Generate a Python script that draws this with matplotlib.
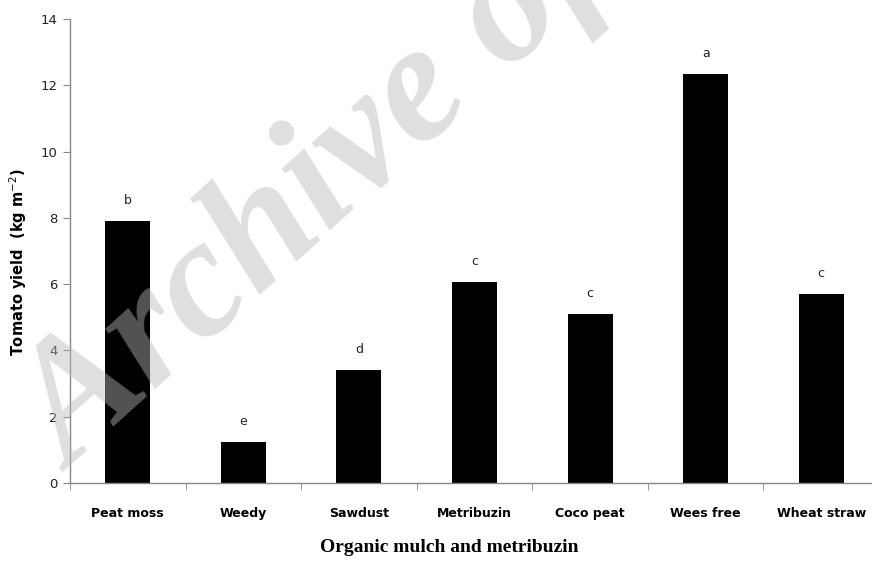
import matplotlib
matplotlib.use("Agg")
import matplotlib.pyplot as plt
import numpy as np

categories = ["Peat moss", "Weedy", "Sawdust", "Metribuzin", "Coco peat", "Wees free", "Wheat straw"]
yield_values = [7.91, 1.23, 3.40, 6.07, 5.09, 12.35, 5.70]
letters = ["b", "e", "d", "c", "c", "a", "c"]
yticks = [0, 2, 4, 6, 8, 10, 12, 14]

W, H = 872, 563
fig = plt.figure(figsize=(W / 100, H / 100), dpi=100)
left, right, top, bottom = 70, 879, 19, 483
ax = fig.add_axes([left / W, 1 - bottom / H, (right - left) / W, (bottom - top) / H])

x = np.arange(len(categories))
ax.bar(x, yield_values, width=0.39, color="black", zorder=2)
for xi, v, l in zip(x, yield_values, letters):
    ax.text(xi, v + 0.42, l, ha="center", va="bottom", fontsize=9,
            family="DejaVu Sans Condensed", color="#222222")

ax.set_xlim(-0.5, len(categories) - 0.5)
ax.set_ylim(0, 14)
ax.set_yticks(yticks)
ax.set_yticklabels([str(t) for t in yticks], fontsize=9.5, family="DejaVu Sans Condensed", color="#222222")
ax.set_xticks(x)
ax.set_xticklabels(categories, fontsize=9, fontweight="bold", family="DejaVu Sans Condensed")
ax.set_xticks(np.arange(len(categories) + 1) - 0.5, minor=True)
ax.tick_params(axis="x", which="major", length=0, pad=17)
ax.tick_params(axis="x", which="minor", length=5, color="#888888", direction="out")
ax.tick_params(axis="y", length=5, color="#888888", direction="out", pad=4)

for s in ["top", "right"]:
    ax.spines[s].set_visible(False)
for s in ["left", "bottom"]:
    ax.spines[s].set_color("#888888")
    ax.spines[s].set_linewidth(1.0)

fig.text(18 / W, 1 - 262 / H, "Tomato yield  (kg m$^{-2}$)", rotation=90, ha="center", va="center",
         fontsize=10.5, fontweight="bold", family="DejaVu Sans Condensed")
fig.text(449 / W, 1 - 547 / H, "Organic mulch and metribuzin", ha="center", va="center",
         fontsize=14, fontweight="bold", family="Liberation Serif")

fig.text(72 / W, 1 - 472 / H, "Archive of SID", rotation=42, rotation_mode="anchor",
         ha="left", va="baseline", fontsize=122, fontweight="bold", fontstyle="italic",
         family="Liberation Serif", color=(0.72, 0.72, 0.72), alpha=0.45, zorder=10)

fig.savefig("out.png", dpi=100)
